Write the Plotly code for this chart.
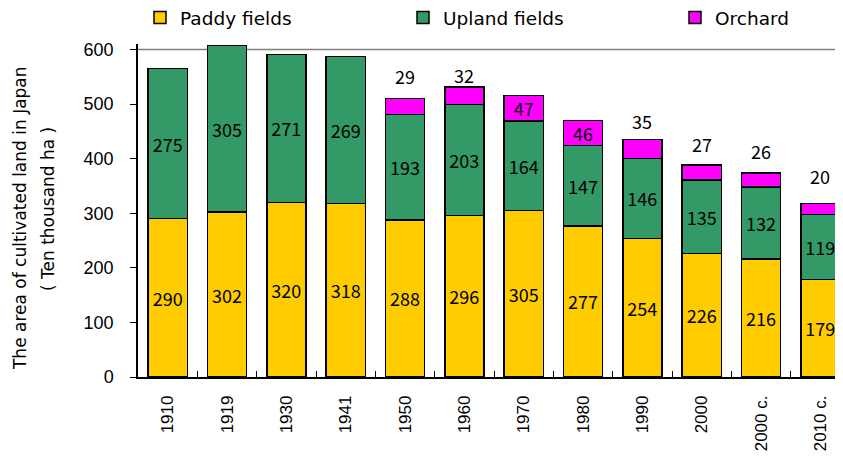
import plotly.graph_objects as go

years = ["1910", "1919", "1930", "1941", "1950", "1960", "1970", "1980", "1990", "2000", "2000 c.", "2010 c."]
paddy = [290, 302, 320, 318, 288, 296, 305, 277, 254, 226, 216, 179]
upland = [275, 305, 271, 269, 193, 203, 164, 147, 146, 135, 132, 119]
orchard = [None, None, None, None, 29, 32, 47, 46, 35, 27, 26, 20]

# style: where each orchard label goes (inside the bar, or above it with a pixel gap)
orchard_inside = [False, False, False, False, False, False, True, True, False, False, False, False]
orchard_gap_px = [0, 0, 0, 0, 14, 3, 0, 0, 10, 12, 13, 18]

label_font = dict(family="Noto Sans CJK JP, DejaVu Sans", size=18, color="black")
line = dict(color="black", width=1.5)

fig = go.Figure()
fig.add_trace(go.Bar(name="Paddy fields", x=years, y=paddy, marker=dict(color="#FFCC00", line=line),
                     text=paddy, textposition="inside", insidetextanchor="middle",
                     textfont=label_font, insidetextfont=label_font, textangle=0,
                     legend="legend"))
fig.add_trace(go.Bar(name="Upland fields", x=years, y=upland, marker=dict(color="#339966", line=line),
                     text=upland, textposition="inside", insidetextanchor="middle",
                     textfont=label_font, insidetextfont=label_font, textangle=0,
                     legend="legend2"))
fig.add_trace(go.Bar(name="Orchard", x=years, y=orchard, marker=dict(color="#FF00FF", line=line),
                     text=[("" if v is None else str(v)) for v in orchard],
                     textposition=["inside" if f else "none" for f in orchard_inside],
                     insidetextanchor="middle",
                     textfont=label_font, insidetextfont=label_font,
                     textangle=0, legend="legend3"))

annotations = []
for i, (p, u, o, inside, gap) in enumerate(zip(paddy, upland, orchard, orchard_inside, orchard_gap_px)):
    if o is None or inside:
        continue
    # category axis: position by category index
    annotations.append(dict(text=str(o), x=i, y=p + u + o, xref="x", yref="y",
                            xanchor="center", yanchor="bottom", yshift=gap - 6,
                            showarrow=False, font=label_font))

leg_font = dict(family="DejaVu Sans", size=18.5, color="black")
def leg(x):
    return dict(orientation="h", x=x, xanchor="left", y=1.078, yanchor="middle",
                xref="container", yref="paper", font=leg_font,
                bgcolor="rgba(0,0,0,0)")

title_font = dict(family="DejaVu Sans", size=17, color="black")
annotations += [
    dict(text="The area of cultivated land in Japan", textangle=-90, xref="paper", yref="paper",
         x=-0.1657, y=0.4775, xanchor="center", yanchor="middle", showarrow=False, font=title_font),
    dict(text="( Ten thousand ha )", textangle=-90, xref="paper", yref="paper",
         x=-0.1264, y=0.5045, xanchor="center", yanchor="middle", showarrow=False, font=title_font),
]

fig.update_layout(
    width=843, height=458,
    barmode="stack", bargap=0.34,
    plot_bgcolor="white", paper_bgcolor="white",
    margin=dict(l=130, r=1, t=36, b=89, autoexpand=False),
    uniformtext=dict(mode="show", minsize=18),
    legend=leg(132 / 843),
    legend2=leg(395 / 843),
    legend3=leg(667 / 843),
    showlegend=True,
    annotations=annotations,
)

fig.update_xaxes(type="category", range=[-0.5, 11.5], showline=True, linecolor="black", linewidth=1.5,
                 ticks="inside", tickson="boundaries", ticklen=6, tickcolor="black",
                 tickangle=-90, tickfont=dict(family="Liberation Sans, Arial", size=17, color="black"),
                 ticklabelstandoff=10, showgrid=False)
fig.update_yaxes(range=[0, 610], tickvals=[0, 100, 200, 300, 400, 500, 600], showline=True,
                 linecolor="black", linewidth=1.5, ticks="outside", ticklen=6, tickcolor="black",
                 tickfont=dict(family="Liberation Sans, Arial", size=18, color="black"),
                 ticklabelstandoff=13, showgrid=False, zeroline=False)
fig.add_shape(type="line", xref="paper", x0=0, x1=1, yref="y", y0=600, y1=600,
              line=dict(color="#808080", width=1.5), layer="below")

fig.write_html("out.html")
